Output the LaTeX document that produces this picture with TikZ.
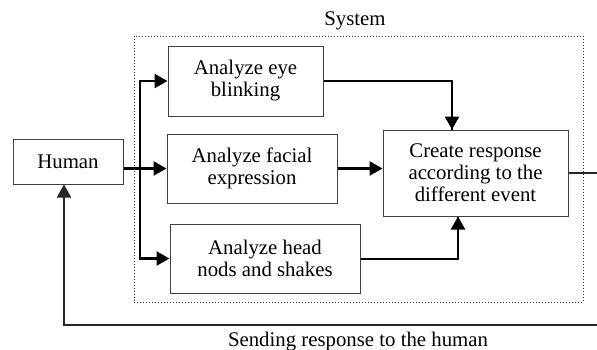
\documentclass[tikz,border=0pt]{standalone}
\usepackage{fontspec}
\setmainfont{Liberation Serif}
\usetikzlibrary{arrows.meta,positioning}
\tikzset{
    taskbox/.style={rectangle,draw=black!75,line width=0.5pt,align=center,inner sep=2pt,font=\fontsize{10.4}{11}\selectfont},
    sysframe/.style={rectangle,draw=black!80,densely dotted,line width=0.5pt},
    labeltext/.style={font=\fontsize{10.4}{11}\selectfont,inner sep=0pt},
    flowline/.style={-{Triangle[length=6.5pt,width=7pt]},line width=1.2pt},
    joinline/.style={line width=1pt},
    backline/.style={-{Triangle[length=6.5pt,width=7pt]},line width=1pt,draw=black!85}
}
\begin{document}
\begin{tikzpicture}[x=0.5pt,y=-0.5pt]
        \useasboundingbox (0,0) rectangle (597,349);
        \node[sysframe,minimum width=224.5pt,minimum height=133pt] (sysbox) at (358.5,169) {};
        \node[labeltext,anchor=base] (syslbl) at (355,25) {System};
        \node[taskbox,minimum width=55pt,minimum height=22.5pt] (human) at (68,161.5) {Human};
        \node[taskbox,minimum width=77.5pt,minimum height=35pt] (eye) at (245.5,81) {Analyze eye\\blinking};
        \node[taskbox,minimum width=85pt,minimum height=34.5pt] (facial) at (252,168.5) {Analyze facial\\expression};
        \node[taskbox,minimum width=95pt,minimum height=34.5pt] (head) at (265,258.5) {Analyze head\\nods and shakes};
        \node[taskbox,minimum width=92.5pt,minimum height=43pt] (create) at (475.5,173) {Create response\\according to the\\different event};
        \coordinate (split) at (140,168.5);
        \coordinate (loopright) at (615,325);
        \draw[flowline] (human.east |- facial.west) -- (facial.west);
        \draw[flowline] (split) |- (eye.west);
        \draw[flowline] (split) |- (head.west);
        \draw[flowline] (facial.east) -- (facial.east -| create.west);
        \draw[joinline] (eye.east) -| ([xshift=-11.75pt]create.north) coordinate (eyein);
        \draw[flowline] ([yshift=13pt]eyein) -- (eyein);
        \draw[joinline] (head.east) -| ([xshift=-8.75pt]create.south) coordinate (headin);
        \draw[flowline] ([yshift=-13pt]headin) -- (headin);
        \draw[backline] (create.east) -| (loopright) -| ([xshift=-2pt]human.south);
        \node[labeltext,anchor=base] (sendlbl) at (358,346.5) {Sending response to the human};
    \end{tikzpicture}
\end{document}
